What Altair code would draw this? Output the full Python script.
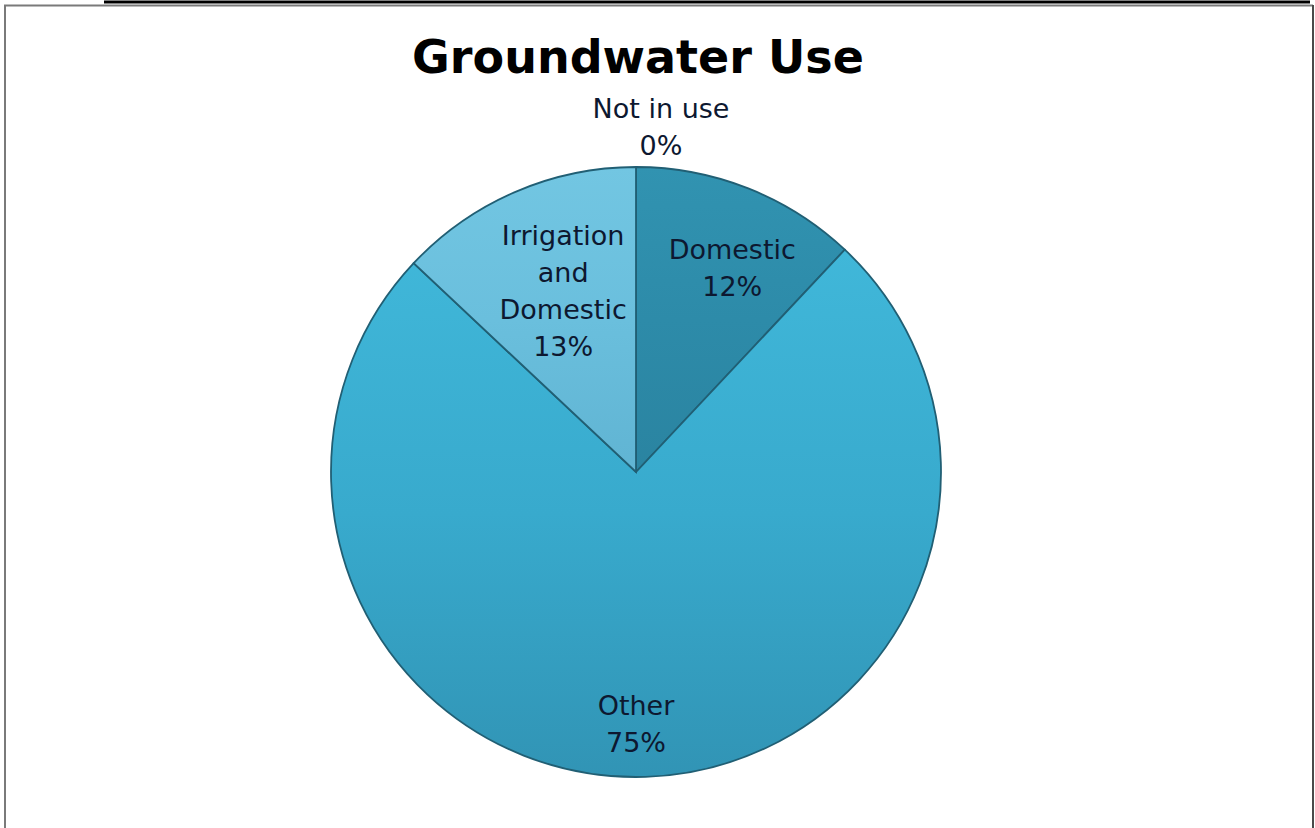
import math
import altair as alt
import pandas as pd

# Groundwater use by category, clockwise from 12 o'clock
categories = ["Not in use", "Domestic", "Other", "Irrigation and Domestic"]
shares = [0, 12, 75, 13]
label_names = ["Not in use", "Domestic", "Other", "Irrigation\nand\nDomestic"]

W, H = 1315, 828
CX, CY, R = 636, 472, 305
LINE_H = 37

df = pd.DataFrame({
    "category": categories,
    "share": shares,
    "name": label_names,
    "order": list(range(len(categories))),
})
df["label"] = df["name"] + "\n" + df["share"].astype(str) + "%"

# label distance from the centre and a small horizontal nudge per slice
label_radius = {"Not in use": 344, "Domestic": 218, "Other": 254, "Irrigation and Domestic": 196}
label_nudge = {"Not in use": 25, "Domestic": 16, "Other": -8, "Irrigation and Domestic": 5}
df["lr"] = df["category"].map(label_radius)
df["lx"] = df["category"].map(label_nudge)
# centre multi-line labels vertically on their anchor
df["ly"] = -df["label"].str.count("\n") * LINE_H / 2

theta_scale = alt.Scale(domain=[0, 100], range=[0, 2 * math.pi])

base = (
    alt.Chart(df)
    .transform_window(end="sum(share)", sort=[alt.SortField("order")])
    .transform_calculate(start="datum.end - datum.share")
    .transform_calculate(mid="(datum.start + datum.end) / 2")
)


def vgrad(top, mid, bottom):
    return alt.Gradient(
        gradient="linear",
        stops=[
            alt.GradientStop(color=top, offset=0),
            alt.GradientStop(color=mid, offset=0.5),
            alt.GradientStop(color=bottom, offset=1),
        ],
        x1=0, x2=0, y1=0, y2=1,
    )


slice_fills = {
    "Not in use": vgrad("#2f8fad", "#2d8aa7", "#2a84a1"),
    "Domestic": vgrad("#3193b1", "#2d8ba9", "#2a84a1"),
    "Other": vgrad("#40b7d9", "#38aacd", "#3194b5"),
    "Irrigation and Domestic": vgrad("#72c6e2", "#6abfdd", "#60b4d3"),
}

slices = [
    base.transform_filter(alt.datum.category == cat)
    .mark_arc(outerRadius=R, color=fill, stroke="#215f74", strokeWidth=1.8)
    .encode(
        theta=alt.Theta("start:Q", scale=theta_scale),
        theta2="end:Q",
        x=alt.value(CX),
        y=alt.value(CY),
    )
    for cat, fill in slice_fills.items()
]

labels = base.mark_text(
    font="DejaVu Sans",
    fontSize=27,
    color="#0d1830",
    lineBreak="\n",
    lineHeight=LINE_H,
    align="center",
    baseline="middle",
).encode(
    theta=alt.Theta("mid:Q", scale=theta_scale),
    radius=alt.Radius("lr:Q", scale=None),
    xOffset=alt.XOffset("lx:Q", scale=None),
    yOffset=alt.YOffset("ly:Q", scale=None),
    text="label:N",
    x=alt.value(CX),
    y=alt.value(CY),
)

title = alt.Chart(alt.Data(values=[{"t": "Groundwater Use"}])).mark_text(
    font="DejaVu Sans",
    fontWeight="bold",
    fontSize=46,
    color="#000000",
    align="center",
    baseline="alphabetic",
).encode(text="t:N", x=alt.value(638), y=alt.value(73))

one_row = alt.Data(values=[{"k": 0}])


def frame_line(x1, x2, y1, y2, color, width):
    return alt.Chart(one_row).mark_rule(color=color, strokeWidth=width).encode(
        x=alt.value(x1), x2=alt.value(x2), y=alt.value(y1), y2=alt.value(y2)
    )


frame = [
    frame_line(104, 1310, 2, 2, "#000000", 3),
    frame_line(4, 1313, 5.5, 5.5, "#7a7a7a", 2),
    frame_line(5, 5, 5, H, "#7a7a7a", 2),
    frame_line(1313, 1313, 5, H, "#4a4a4a", 2),
]

chart = (
    alt.layer(*frame, *slices, labels, title)
    .properties(width=W, height=H, padding=0, autosize="none", background="white")
    .configure_view(stroke="transparent")
)

chart.save("out.html", embed_options={"renderer": "svg", "actions": False})
